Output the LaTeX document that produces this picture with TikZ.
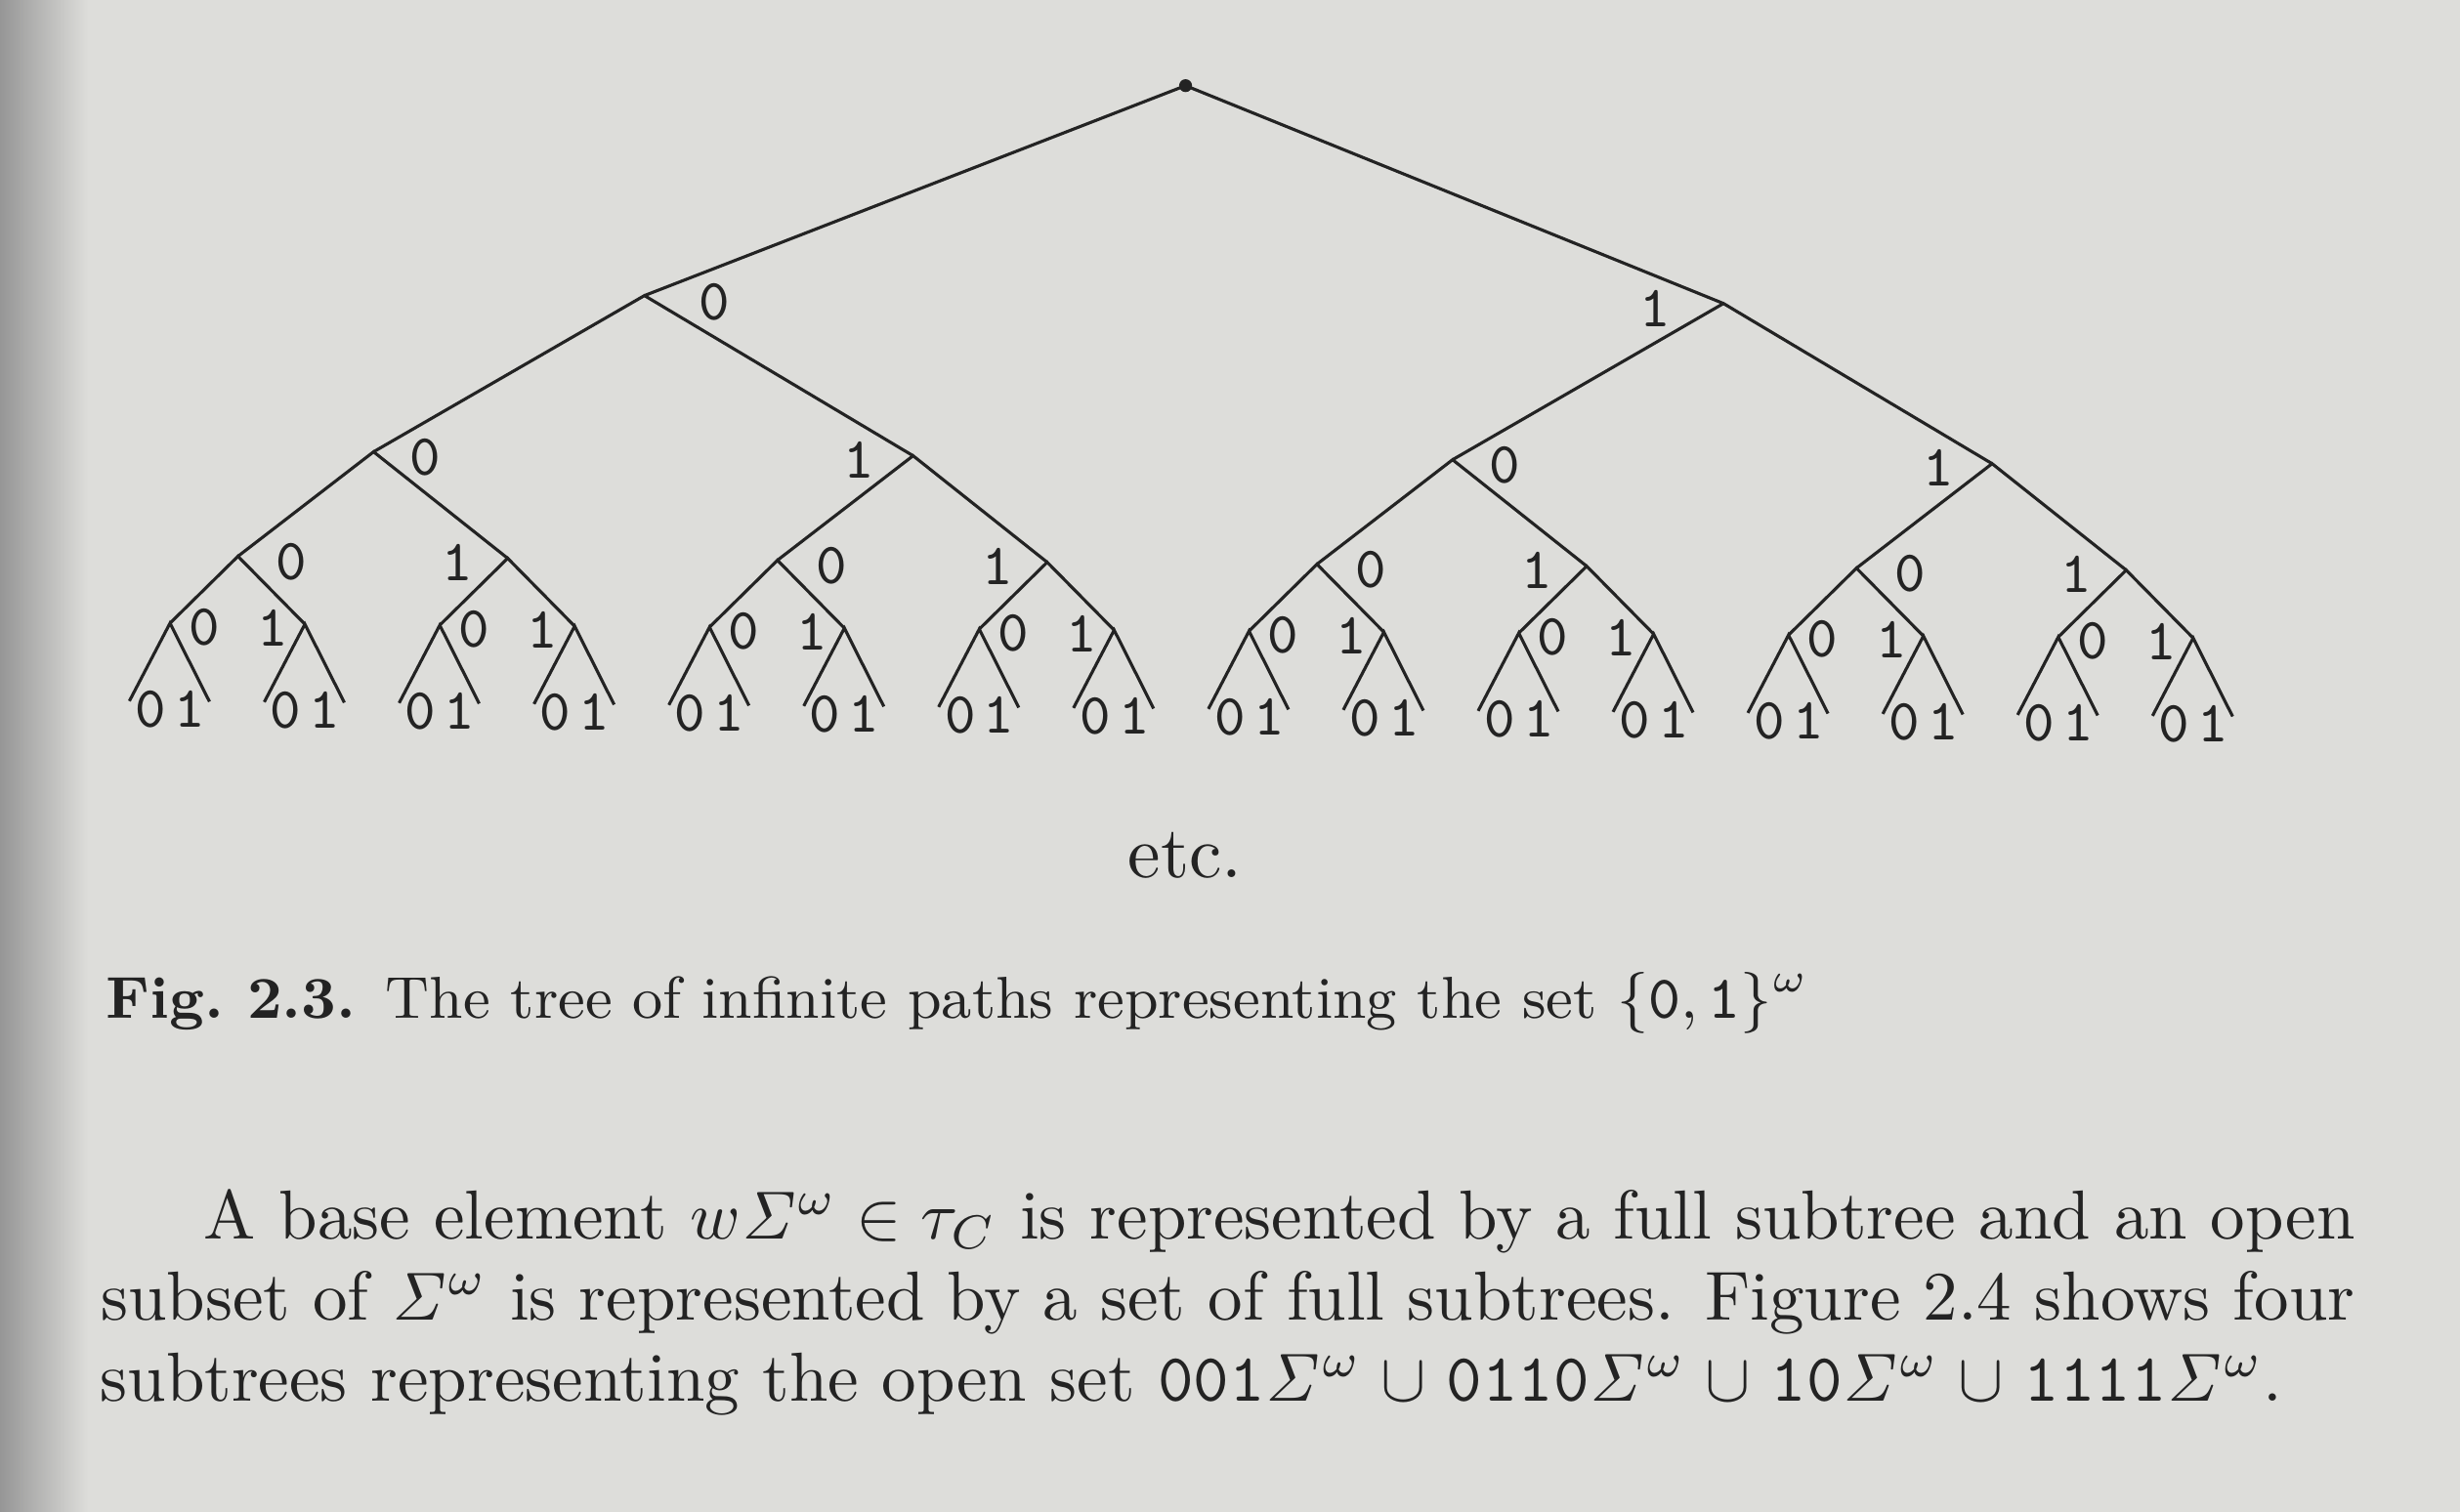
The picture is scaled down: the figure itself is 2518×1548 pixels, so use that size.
\documentclass[tikz,border=0pt]{standalone}
\usepackage{amsmath}
\usetikzlibrary{calc}
\definecolor{paper}{RGB}{221,221,218}
\definecolor{shadow}{RGB}{150,150,150}
\definecolor{ink}{RGB}{35,35,35}
\newcommand{\ucup}{\mskip1.3mu\cup\mskip1.3mu}
\begin{document}
\begin{tikzpicture}[x=0.14368pt,y=-0.14368pt,
  edge/.style={draw=ink,line width=0.45pt},
  lbl/.style={font=\fontsize{8.6}{10}\selectfont\ttfamily,text=ink,inner sep=0pt},
  txt/.style={text=ink,inner sep=0pt,anchor=base west},
  body/.style={txt,font=\fontsize{10.2}{12}\selectfont}]
\useasboundingbox (0,0) rectangle (2518,1548);
\fill[paper] (0,0) rectangle (2518,1548);
\shade[left color=shadow,right color=paper] (0,0) rectangle (90,1548);
\begin{scope}[rotate around={-0.42:(1259,774)}]
% tree points
\node[circle,fill=ink,inner sep=0pt,minimum size=1.9pt] (r) at (1208.5,88) {};
\foreach \h in {0,1} {\coordinate (a\h) at ({656.2+1104.56*\h},307);}
\foreach \i in {0,...,3} {\coordinate (b\i) at ({380.1+552.28*\i},469);}
\foreach \j in {0,...,7} {\coordinate (c\j) at ({242.035+276.14*\j},577);}
\foreach \k in {0,...,15} {
  \coordinate (d\k) at ({173+138.07*\k},646);
  \coordinate (el\k) at ({173+138.07*\k-41},726);
  \coordinate (er\k) at ({173+138.07*\k+41},726);
}
% edges
\draw[edge] (a0) -- (r.center) -- (a1);
\foreach \h in {0,1} {
  \pgfmathtruncatemacro\p{2*\h}\pgfmathtruncatemacro\q{2*\h+1}
  \draw[edge] (b\p) -- (a\h) -- (b\q);
}
\foreach \i in {0,...,3} {
  \pgfmathtruncatemacro\p{2*\i}\pgfmathtruncatemacro\q{2*\i+1}
  \draw[edge] (c\p) -- (b\i) -- (c\q);
}
\foreach \j in {0,...,7} {
  \pgfmathtruncatemacro\p{2*\j}\pgfmathtruncatemacro\q{2*\j+1}
  \draw[edge] (d\p) -- (c\j) -- (d\q);
}
\foreach \k in {0,...,15} {
  \draw[edge] (el\k) -- (d\k) -- (er\k);
}
% labels
\node[lbl] (la0) at ($(a0)+(72,6)$) {0};
\node[lbl] (la1) at ($(a1)+(-70,6)$) {1};
\foreach \i in {0,...,3} {
  \pgfmathtruncatemacro\m{mod(\i,2)}
  \ifnum\m=0 \node[lbl] (lb\i) at ($(b\i)+(53,5)$) {0};
  \else \node[lbl] (lb\i) at ($(b\i)+(-55,5)$) {1}; \fi
}
\foreach \j in {0,...,7} {
  \pgfmathtruncatemacro\m{mod(\j,2)}
  \ifnum\m=0 \node[lbl] (lc\j) at ($(c\j)+(55,5)$) {0};
  \else \node[lbl] (lc\j) at ($(c\j)+(-51,5)$) {1}; \fi
}
\foreach \k in {0,...,15} {
  \pgfmathtruncatemacro\m{mod(\k,2)}
  \ifnum\m=0 \node[lbl] (ld\k) at ($(d\k)+(35,4)$) {0};
  \else \node[lbl] (ld\k) at ($(d\k)+(-33,4)$) {1}; \fi
  \node[lbl] (ll\k) at ($(el\k)+(22,8)$) {0};
  \node[lbl] (lr\k) at ($(er\k)+(-20,8)$) {1};
}
% texts
\node[txt,anchor=base,font=\fontsize{10.8}{13}\selectfont] (etc) at (1214,899) {etc.};
\node[txt,font=\fontsize{8.7}{10.5}\selectfont] (cap) at (109,1051) {\textbf{Fig.~2.3.}\enspace The tree of infinite paths representing the set $\{\mathtt{0},\mathtt{1}\}^{\omega}$};
\node[body] (p1) at (211,1276) {\makebox[316.4pt][s]{A base element $w\mathit{\Sigma}^{\omega}\in\tau_{C}$ is represented by a full subtree and an open}};
\node[body] (p2) at (106,1359.5) {\makebox[331.5pt][s]{subset of $\mathit{\Sigma}^{\omega}$ is represented by a set of full subtrees. Figure 2.4 shows four}};
\node[body] (p3) at (106,1443) {subtrees representing the open set $\mathtt{001}\mathit{\Sigma}^{\omega}\ucup\mathtt{0110}\mathit{\Sigma}^{\omega}\ucup\mathtt{10}\mathit{\Sigma}^{\omega}\ucup\mathtt{1111}\mathit{\Sigma}^{\omega}$.};
\end{scope}
\end{tikzpicture}
\end{document}
